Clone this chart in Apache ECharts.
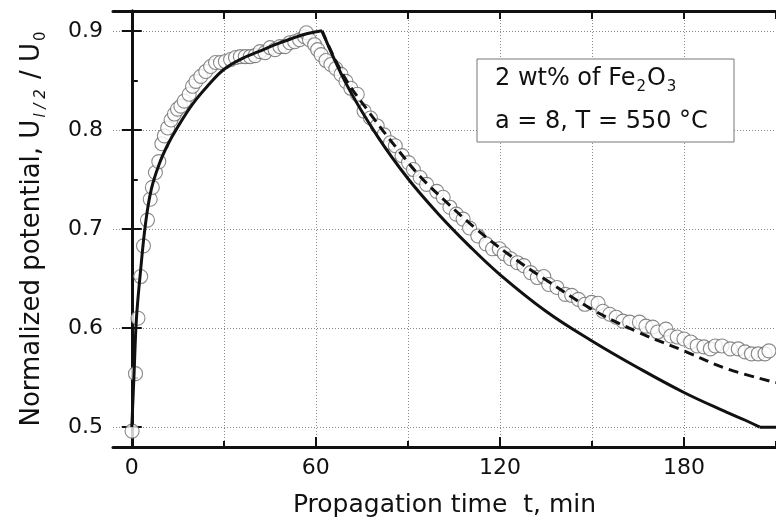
<!DOCTYPE html>
<html><head><meta charset="utf-8">
<script src="https://cdn.jsdelivr.net/npm/echarts@6/dist/echarts.min.js"></script>
<style>html,body{margin:0;padding:0;background:#fff}#c{width:776px;height:523px}</style>
</head><body><div id="c"></div>
<script>
// ---- data ----
const measuredT = [0.1,1.2,2.0,2.9,3.8,5.1,6.0,6.7,7.7,8.8,9.8,10.6,11.7,12.8,13.9,14.9,16.0,17.1,18.7,19.8,20.9,22.5,24.1,25.7,27.3,28.9,30.5,32.2,33.8,35.4,37.0,38.6,40.2,41.8,43.4,45.1,46.7,48.3,49.9,51.5,53.1,54.7,56.3,56.9,57.9,59.6,60.6,61.7,63.3,64.9,66.5,68.2,69.8,71.4,73.5,75.7,77.8,80.0,82.2,84.3,85.9,88.1,90.2,91.8,94.0,96.1,99.4,101.5,103.7,105.8,108.0,110.1,112.8,115.5,117.6,119.8,121.4,123.5,125.7,127.8,130.0,132.2,134.3,135.9,138.6,141.3,143.4,145.6,147.7,149.9,152.0,153.6,155.8,157.9,160.1,162.3,165.5,167.6,169.8,171.4,174.1,175.7,177.8,180.0,182.2,184.3,186.5,188.6,190.2,192.4,195.1,197.7,199.9,202.0,204.2,206.4,207.7];
const measuredU = [0.496,0.554,0.610,0.652,0.683,0.709,0.730,0.742,0.757,0.768,0.786,0.794,0.802,0.810,0.816,0.821,0.824,0.829,0.836,0.844,0.849,0.854,0.859,0.864,0.868,0.868,0.869,0.871,0.873,0.874,0.874,0.874,0.875,0.879,0.878,0.883,0.881,0.884,0.884,0.888,0.889,0.891,0.894,0.898,0.891,0.886,0.881,0.876,0.870,0.866,0.862,0.856,0.849,0.842,0.836,0.819,0.812,0.804,0.795,0.787,0.784,0.774,0.767,0.760,0.752,0.745,0.738,0.732,0.722,0.715,0.710,0.701,0.693,0.685,0.680,0.680,0.675,0.670,0.666,0.663,0.656,0.651,0.652,0.644,0.641,0.634,0.633,0.629,0.624,0.626,0.625,0.617,0.614,0.611,0.607,0.606,0.606,0.602,0.601,0.596,0.599,0.592,0.591,0.589,0.586,0.582,0.581,0.579,0.582,0.582,0.579,0.579,0.576,0.574,0.574,0.574,0.577];

const modelRiseT = [0,0.75,1.5,2.8,4.5,6.35,9.0,11.7,14.4,19.8,25.2,30,35.9,41.3,46.7,52,57,62];
const modelRiseU = [0.500,0.555,0.609,0.656,0.706,0.740,0.766,0.785,0.800,0.826,0.846,0.861,0.872,0.879,0.886,0.892,0.897,0.900];

const modelDecayT = [62,70,80,90,100,110,120,135,150,165,180,194,200,204.7];
const modelDecayU = [0.900,0.846,0.794,0.751,0.715,0.683,0.654,0.617,0.587,0.560,0.535,0.515,0.507,0.500];
const modelFloorT = [204.7,210];
const modelFloorU = [0.500,0.500];

const fitT = [62,69.2,77.8,86.5,94,102.6,112.3,123,134.8,150,165,180,194,210];
const fitU = [0.900,0.854,0.816,0.781,0.753,0.727,0.700,0.674,0.649,0.619,0.596,0.577,0.559,0.545];

const xTickValues = [0,30,60,90,120,150,180,210];
const xMajorValues = [0,60,120,180];
const yMajorValues = [0.5,0.6,0.7,0.8,0.9];
const yMinorValues = [0.55,0.65,0.75,0.85];

const xTitle = 'Propagation time  t, min';
const legendLine1 = ['2 wt% of Fe','2','O','3'];
const legendLine2 = 'a = 8, T = 550 °C';

// ---- chart ----
const FONT = 'DejaVu Sans';
const INK = '#111';
const pairs = (a, b) => a.map((v, i) => [v, b[i]]);
const gridLine = {show: true, lineStyle: {color: '#8a8a8a', width: 1, type: [1, 2]}};
const solidStyle = {color: INK, width: 3};

const chart = echarts.init(document.getElementById('c'), null, {renderer: 'canvas'});
chart.setOption({
  animation: false,
  backgroundColor: '#fff',
  grid: {left: 113, top: 11, width: 670, height: 437},
  xAxis: [
    {type: 'value', position: 'bottom', min: -6.13, max: 210,
     axisLine: {lineStyle: {color: INK, width: 3}},
     axisTick: {inside: true, length: 6, customValues: xTickValues, lineStyle: {color: INK, width: 2}},
     axisLabel: {show: false}, splitLine: gridLine},
    {type: 'value', position: 'bottom', min: -6.13, max: 210,
     axisLine: {show: false},
     axisTick: {inside: true, length: 10, customValues: xMajorValues, lineStyle: {color: INK, width: 2}},
     axisLabel: {customValues: xMajorValues, margin: 10, fontSize: 22, fontFamily: FONT, color: INK},
     splitLine: {show: false},
     name: xTitle, nameLocation: 'middle', nameGap: 46,
     nameTextStyle: {fontSize: 25, fontFamily: FONT, color: INK}},
    {type: 'value', position: 'top', min: -6.13, max: 210,
     axisLine: {lineStyle: {color: INK, width: 3}},
     axisTick: {inside: true, length: 8, customValues: xTickValues, lineStyle: {color: INK, width: 2}},
     axisLabel: {show: false}, splitLine: {show: false}}
  ],
  yAxis: [
    {type: 'value', position: 'left', min: 0.48, max: 0.92,
     axisLine: {lineStyle: {color: INK, width: 3}},
     axisTick: {inside: true, length: 10, customValues: yMajorValues, lineStyle: {color: INK, width: 2}},
     axisLabel: {customValues: yMajorValues, margin: 10, fontSize: 22, fontFamily: FONT, color: INK,
                 formatter: v => v.toFixed(1)},
     splitLine: gridLine,
     name: '{m|Normalized potential, U}{s|l / 2}{m| / U}{z|0}',
     nameLocation: 'middle', nameGap: 64,
     nameTextStyle: {fontFamily: FONT, color: INK,
       rich: {
         m: {fontSize: 26, fontFamily: FONT, color: INK, lineHeight: 30, verticalAlign: 'top'},
         s: {fontSize: 15, fontFamily: FONT, fontStyle: 'italic', color: INK, lineHeight: 15, padding: [21, 2, 0, 2], verticalAlign: 'bottom'},
         z: {fontSize: 15, fontFamily: FONT, color: INK, lineHeight: 15, padding: [21, 0, 0, 2], verticalAlign: 'bottom'}
       }}},
    {type: 'value', position: 'left', min: 0.48, max: 0.92,
     axisLine: {show: false},
     axisTick: {inside: true, length: 6, customValues: yMinorValues, lineStyle: {color: INK, width: 2}},
     axisLabel: {show: false}, splitLine: {show: false}},
    {type: 'value', position: 'right', min: 0.48, max: 0.92,
     axisLine: {lineStyle: {color: INK, width: 3}},
     axisTick: {inside: true, length: 10, customValues: yMajorValues, lineStyle: {color: INK, width: 2}},
     axisLabel: {show: false}, splitLine: {show: false}}
  ],
  series: [
    {type: 'scatter', data: pairs(measuredT, measuredU), symbol: 'circle', symbolSize: 14,
     itemStyle: {color: '#fff', borderColor: '#6a6a6a', borderWidth: 1.1}, z: 2, silent: true},
    {type: 'line', data: pairs(modelRiseT, modelRiseU), showSymbol: false, smooth: 0.4,
     lineStyle: solidStyle, z: 3, silent: true},
    {type: 'line', data: pairs(modelDecayT, modelDecayU), showSymbol: false, smooth: 0.4,
     lineStyle: solidStyle, z: 3, silent: true},
    {type: 'line', data: pairs(modelFloorT, modelFloorU), showSymbol: false,
     lineStyle: solidStyle, z: 3, silent: true},
    {type: 'line', data: pairs(fitT, fitU), showSymbol: false, smooth: 0.4,
     lineStyle: {color: INK, width: 3, type: [10, 6]}, z: 4, silent: true}
  ],
  graphic: [
    {type: 'rect', shape: {x: 477, y: 59, width: 257, height: 83}, z: 100,
     style: {fill: '#fff', stroke: '#777', lineWidth: 1}},
    {type: 'text', x: 495, y: 67, z: 101,
     style: {text: '{m|' + legendLine1[0] + '}{s|' + legendLine1[1] + '}{m|' + legendLine1[2] + '}{s|' + legendLine1[3] + '}',
       verticalAlign: 'top', align: 'left', fill: INK,
       rich: {
         m: {fontSize: 24, fontFamily: FONT, fill: INK, lineHeight: 28, verticalAlign: 'top'},
         s: {fontSize: 15, fontFamily: FONT, fill: INK, lineHeight: 14, padding: [21, 1, 0, 1], verticalAlign: 'bottom'}
       }}},
    {type: 'text', x: 495, y: 122, z: 101,
     style: {text: legendLine2, font: '24px "DejaVu Sans"', fill: INK, verticalAlign: 'middle', align: 'left'}}
  ]
});
</script></body></html>
